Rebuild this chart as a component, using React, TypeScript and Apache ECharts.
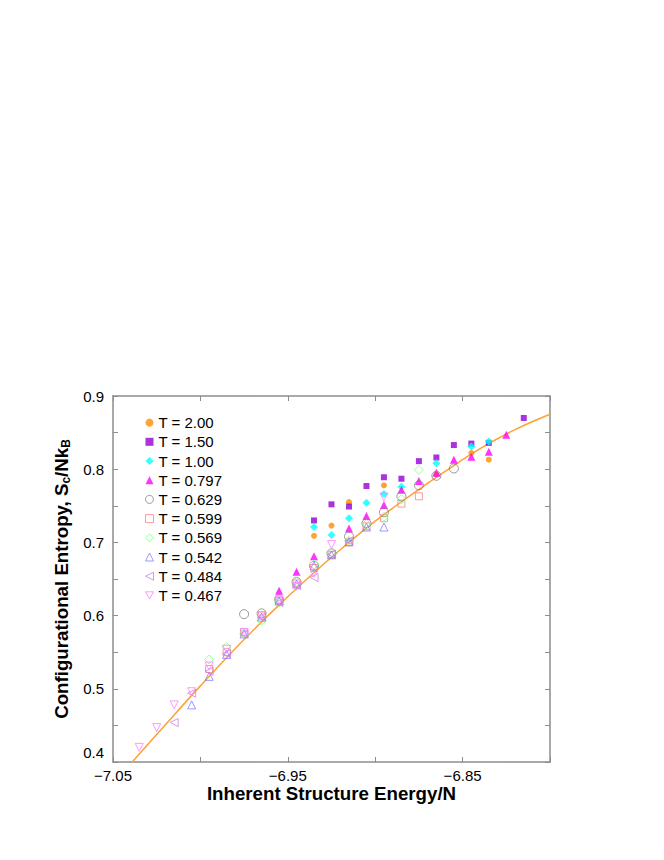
import React, { useEffect, useRef } from "react";
import * as echarts from "echarts";

const xTickLabels = [-7.05, -6.95, -6.85];
const yTickLabels = [0.4, 0.5, 0.6, 0.7, 0.8, 0.9];

const fitX = [-7.039, -7.02, -7.0, -6.98, -6.96, -6.94, -6.92, -6.9, -6.88, -6.86, -6.84, -6.82, -6.8];
const fitY = [0.4, 0.451, 0.504, 0.555, 0.603, 0.648, 0.69, 0.729, 0.764, 0.797, 0.828, 0.854, 0.875];

const t200 = [[-6.935, 0.709], [-6.925, 0.723], [-6.915, 0.755], [-6.895, 0.778], [-6.865, 0.793], [-6.845, 0.822], [-6.835, 0.813]];
const t150 = [[-6.935, 0.73], [-6.925, 0.752], [-6.915, 0.749], [-6.905, 0.777], [-6.895, 0.789], [-6.885, 0.787], [-6.875, 0.811], [-6.865, 0.816], [-6.855, 0.833], [-6.845, 0.835], [-6.835, 0.836], [-6.815, 0.87]];
const t100 = [[-6.935, 0.721], [-6.925, 0.71], [-6.915, 0.733], [-6.905, 0.754], [-6.895, 0.766], [-6.885, 0.776], [-6.865, 0.808], [-6.845, 0.831], [-6.835, 0.838]];
const t0797 = [[-6.955, 0.634], [-6.945, 0.66], [-6.935, 0.681], [-6.915, 0.719], [-6.905, 0.736], [-6.895, 0.751], [-6.885, 0.772], [-6.875, 0.784], [-6.865, 0.795], [-6.855, 0.813], [-6.845, 0.817], [-6.835, 0.824], [-6.825, 0.847]];
const t0629 = [[-6.975, 0.602], [-6.965, 0.603], [-6.955, 0.622], [-6.945, 0.646], [-6.935, 0.668], [-6.925, 0.685], [-6.915, 0.708], [-6.905, 0.726], [-6.895, 0.741], [-6.885, 0.763], [-6.875, 0.778], [-6.865, 0.791], [-6.855, 0.801]];
const t0599 = [[-6.995, 0.527], [-6.985, 0.55], [-6.975, 0.577], [-6.965, 0.6], [-6.955, 0.62], [-6.945, 0.644], [-6.935, 0.665], [-6.925, 0.683], [-6.915, 0.7], [-6.905, 0.722], [-6.895, 0.733], [-6.885, 0.753], [-6.875, 0.763]];
const t0569 = [[-6.995, 0.54], [-6.985, 0.557], [-6.975, 0.575], [-6.965, 0.593], [-6.955, 0.618], [-6.945, 0.646], [-6.935, 0.67], [-6.925, 0.686], [-6.915, 0.702], [-6.905, 0.725], [-6.895, 0.735], [-6.885, 0.759], [-6.875, 0.799]];
const t0542 = [[-7.005, 0.478], [-6.995, 0.517], [-6.985, 0.547], [-6.975, 0.575], [-6.965, 0.598], [-6.955, 0.62], [-6.945, 0.643], [-6.935, 0.668], [-6.925, 0.683], [-6.915, 0.701], [-6.905, 0.721], [-6.895, 0.721]];
const t0484 = [[-7.015, 0.454], [-7.005, 0.494], [-6.995, 0.524], [-6.985, 0.548], [-6.975, 0.575], [-6.965, 0.598], [-6.955, 0.618], [-6.945, 0.641], [-6.935, 0.652], [-6.925, 0.684], [-6.915, 0.702]];
const t0467 = [[-7.035, 0.42], [-7.025, 0.447], [-7.015, 0.478], [-7.005, 0.496], [-6.995, 0.531], [-6.985, 0.554], [-6.975, 0.577], [-6.965, 0.6], [-6.955, 0.621], [-6.945, 0.64], [-6.935, 0.658], [-6.925, 0.697], [-6.895, 0.762]];

const FONT = "'Liberation Sans', Arial, Helvetica, sans-serif";
const AXIS_COLOR = "#8c8c8c";
const LEFT_TRI = "path://M10,0L0,5L10,10Z";
const DOWN_TRI = "path://M0,0L10,0L5,9Z";

type Spec = { name: string; data: number[][]; symbol: string; size: number; color: string; filled: boolean };

const specs: Spec[] = [
  { name: "T = 2.00", data: t200, symbol: "circle", size: 6, color: "#ff8c00", filled: true },
  { name: "T = 1.50", data: t150, symbol: "rect", size: 6, color: "#9400d3", filled: true },
  { name: "T = 1.00", data: t100, symbol: "diamond", size: 8, color: "#00ffff", filled: true },
  { name: "T = 0.797", data: t0797, symbol: "triangle", size: 8, color: "#ff00ff", filled: true },
  { name: "T = 0.629", data: t0629, symbol: "circle", size: 9, color: "#808080", filled: false },
  { name: "T = 0.599", data: t0599, symbol: "rect", size: 7, color: "#ff8080", filled: false },
  { name: "T = 0.569", data: t0569, symbol: "diamond", size: 9, color: "#80ff80", filled: false },
  { name: "T = 0.542", data: t0542, symbol: "triangle", size: 8, color: "#8080ff", filled: false },
  { name: "T = 0.484", data: t0484, symbol: LEFT_TRI, size: 8, color: "#c87fe9", filled: false },
  { name: "T = 0.467", data: t0467, symbol: DOWN_TRI, size: 8, color: "#ff80ff", filled: false },
];

function same(a: number, b: number) {
  return Math.abs(a - b) < 1e-6;
}

export default function App() {
  const ref = useRef<HTMLDivElement>(null);
  useEffect(() => {
    if (!ref.current) return;
    const chart = echarts.init(ref.current, null, { renderer: "svg" });
    const axisCommon = {
      axisLine: { show: true, onZero: false, lineStyle: { color: AXIS_COLOR, width: 1.5 } },
      axisTick: { show: true, inside: true, length: 5, lineStyle: { color: AXIS_COLOR, width: 1 } },
      splitLine: { show: false },
    };
    const styleOf = (s: Spec) =>
      s.filled
        ? { color: s.color }
        : { color: "rgba(0,0,0,0)", borderColor: s.color, borderWidth: 1 };
    const scatterSeries = specs.map((s) => ({
      type: "scatter",
      name: s.name,
      data: s.data,
      symbol: s.symbol,
      symbolSize: s.size,
      itemStyle: styleOf(s),
      z: 3,
    }));
    chart.setOption({
      animation: false,
      backgroundColor: "#fff",
      textStyle: { fontFamily: FONT },
      grid: { left: 113, right: 114, top: 396, bottom: 98, containLabel: false },
      legend: {
        orient: "vertical",
        left: 140,
        top: 408,
        itemWidth: 8,
        itemHeight: 8,
        itemGap: 0,
        padding: 5,
        textStyle: { fontSize: 15, color: "#000", fontFamily: FONT, lineHeight: 19.2 },
        data: specs.map((s) => ({ name: s.name, icon: s.symbol, itemStyle: styleOf(s) })),
      },
      xAxis: [
        {
          type: "value",
          min: -7.05,
          max: -6.8,
          interval: 0.05,
          position: "bottom",
          ...axisCommon,
          axisLabel: {
            show: true,
            margin: 6,
            fontSize: 15,
            color: "#000",
            fontFamily: FONT,
            formatter: (v: number) =>
              xTickLabels.some((t) => same(t, v)) ? "\u2212" + Math.abs(v).toFixed(2) : "",
          },
          name: "Inherent Structure Energy/N",
          nameLocation: "middle",
          nameGap: 22,
          nameTextStyle: { fontSize: 18.7, fontWeight: "bold", color: "#000", fontFamily: FONT },
        },
        {
          type: "value",
          min: -7.05,
          max: -6.8,
          interval: 0.05,
          position: "top",
          ...axisCommon,
          axisLabel: { show: false },
        },
      ],
      yAxis: [
        {
          type: "value",
          min: 0.4,
          max: 0.9,
          interval: 0.05,
          position: "left",
          ...axisCommon,
          axisLabel: {
            show: true,
            margin: 9,
            fontSize: 15,
            color: "#000",
            fontFamily: FONT,
            formatter: (v: number) => {
              if (!yTickLabels.some((t) => same(t, v))) return "";
              if (same(v, yTickLabels[0])) return "{low|" + v.toFixed(1) + "}";
              return v.toFixed(1);
            },
            rich: { low: { fontSize: 15, color: "#000", fontFamily: FONT, padding: [0, 0, 20, 0] } },
          },
          name: "Configurational Entropy, S{sub|c}/Nk{sub|B}",
          nameLocation: "middle",
          nameRotate: 90,
          nameGap: 38,
          nameTextStyle: {
            fontSize: 18.7,
            fontWeight: "bold",
            color: "#000",
            fontFamily: FONT,
            rich: {
              sub: { fontSize: 12, fontWeight: "bold", color: "#000", fontFamily: FONT, padding: [10, 0, 0, 0] },
            },
          },
        },
        {
          type: "value",
          min: 0.4,
          max: 0.9,
          interval: 0.05,
          position: "right",
          ...axisCommon,
          axisLabel: { show: false },
        },
      ],
      series: [
        {
          type: "line",
          name: "fit",
          data: fitX.map((x, i) => [x, fitY[i]]),
          showSymbol: false,
          symbol: "none",
          smooth: 0.4,
          lineStyle: { color: "#ffa030", width: 1.5 },
          z: 2,
        },
        ...scatterSeries,
      ],
    });
    return () => chart.dispose();
  }, []);
  return <div ref={ref} style={{ position: "fixed", left: 0, top: 0, width: 664, height: 860 }} />;
}
